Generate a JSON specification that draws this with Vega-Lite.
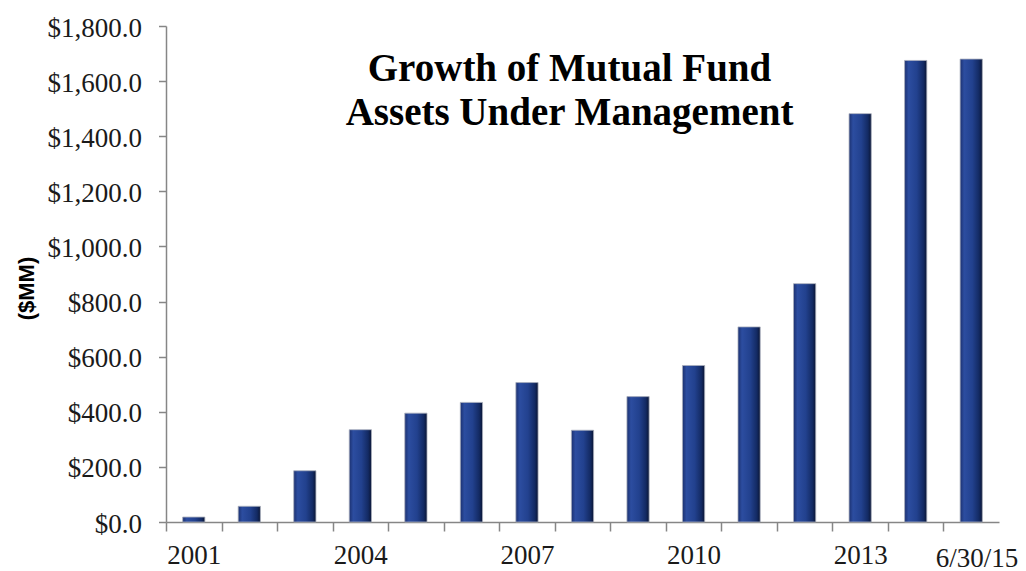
{
  "$schema": "https://vega.github.io/schema/vega-lite/v6.json",
  "autosize": {"type": "none"},
  "width": 833,
  "height": 496,
  "padding": {"left": 166, "top": 26, "right": 27, "bottom": 49},
  "background": "white",
  "title": {
    "text": ["Growth of Mutual Fund", "Assets Under Management"],
    "font": "Liberation Serif",
    "fontWeight": "bold",
    "fontSize": 39,
    "lineHeight": 44,
    "color": "#000000",
    "anchor": "middle",
    "frame": "group",
    "offset": -90,
    "dx": -13,
    "dy": 29
  },
  "data": {
    "values": [
      {"period": "2001", "aum": 18},
      {"period": "2002", "aum": 57},
      {"period": "2003", "aum": 186},
      {"period": "2004", "aum": 335},
      {"period": "2005", "aum": 395},
      {"period": "2006", "aum": 434},
      {"period": "2007", "aum": 506},
      {"period": "2008", "aum": 333},
      {"period": "2009", "aum": 455},
      {"period": "2010", "aum": 568},
      {"period": "2011", "aum": 708},
      {"period": "2012", "aum": 865},
      {"period": "2013", "aum": 1482},
      {"period": "2014", "aum": 1675},
      {"period": "6/30/15", "aum": 1680}
    ]
  },
  "mark": {
    "type": "bar",
    "stroke": "#a9afbd",
    "strokeWidth": 0.8,
    "color": {
      "gradient": "linear",
      "x1": 0, "y1": 0, "x2": 1, "y2": 0,
      "stops": [
        {"offset": 0, "color": "#1c3170"},
        {"offset": 0.18, "color": "#2c4da0"},
        {"offset": 0.55, "color": "#22418e"},
        {"offset": 0.85, "color": "#132a63"},
        {"offset": 1, "color": "#0a1534"}
      ]
    }
  },
  "encoding": {
    "x": {
      "field": "period",
      "type": "nominal",
      "sort": null,
      "scale": {"paddingInner": 0.6, "paddingOuter": 0.3},
      "axis": {
        "title": null,
        "labelAngle": 0,
        "labelFont": "Liberation Serif",
        "labelFontSize": 27,
        "labelColor": "#1a1a1a",
        "labelExpr": "indexof(['2001','2004','2007','2010','2013','6/30/15'], datum.value) >= 0 ? datum.value : ''",
        "labelOffset": {"condition": {"test": "datum.value == '6/30/15'", "value": 33}, "value": 27.77},
        "labelPadding": {"condition": {"test": "datum.value == '6/30/15'", "value": 14}, "value": 11},
        "labelBaseline": "top",
        "tickOffset": -27.77,
        "tickSize": 9,
        "tickColor": "#868686",
        "tickWidth": 1.5,
        "domainColor": "#868686",
        "domainWidth": 1.5,
        "grid": false
      }
    },
    "y": {
      "field": "aum",
      "type": "quantitative",
      "scale": {"domain": [0, 1800], "nice": false},
      "axis": {
        "title": "($MM)",
        "titleFont": "Liberation Sans",
        "titleFontWeight": "bold",
        "titleFontSize": 22,
        "titleColor": "#000000",
        "titleX": -140,
        "titleY": 262,
        "titleBaseline": "middle",
        "values": [0, 200, 400, 600, 800, 1000, 1200, 1400, 1600, 1800],
        "format": "$,.1f",
        "labelFont": "Liberation Serif",
        "labelFontSize": 27,
        "labelColor": "#1a1a1a",
        "labelPadding": 17,
        "labelOffset": 2,
        "tickSize": 7.5,
        "tickColor": "#868686",
        "tickWidth": 1.5,
        "domainColor": "#868686",
        "domainWidth": 1.5,
        "grid": false
      }
    }
  },
  "config": {"view": {"stroke": null}}
}
